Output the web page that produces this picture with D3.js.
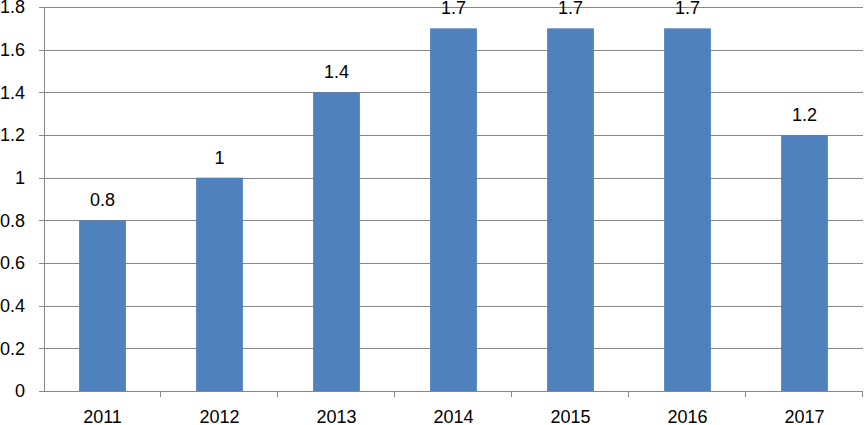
<!DOCTYPE html>
<html>
<head>
<meta charset="utf-8">
<script src="https://cdn.jsdelivr.net/npm/d3@7"></script>
<style>
  body { margin: 0; background: #fff; }
  text { font-family: "Liberation Sans", Arial, sans-serif; font-size: 18px; fill: #000; }
</style>
</head>
<body>
<div id="chart"></div>
<script>
// datos del gráfico
var years  = ['2011', '2012', '2013', '2014', '2015', '2016', '2017'];
var values = [0.8, 1, 1.4, 1.7, 1.7, 1.7, 1.2];
var yTicks = [0, 0.2, 0.4, 0.6, 0.8, 1, 1.2, 1.4, 1.6, 1.8];

var WIDTH  = 864;
var HEIGHT = 425;
var LEFT = 44, RIGHT = 863, TOP = 7, BOTTOM = 391;
var GRID = '#878787';
var BAR  = '#4F81BD';

var svg = d3.select('#chart').append('svg')
            .attr('width', WIDTH)
            .attr('height', HEIGHT);

var x = d3.scaleBand().domain(years).range([LEFT, RIGHT]);
var y = d3.scaleLinear().domain([0, 1.8]).range([BOTTOM, TOP]);

// líneas de la grilla (con su pequeña marca a la izquierda)
svg.append('g').selectAll('line')
   .data(yTicks)
   .enter().append('line')
   .attr('x1', LEFT - 5)
   .attr('x2', RIGHT)
   .attr('y1', d => Math.round(y(d)) + 0.5)
   .attr('y2', d => Math.round(y(d)) + 0.5)
   .attr('stroke', GRID);

svg.append('g').selectAll('text')
   .data(yTicks)
   .enter().append('text')
   .attr('x', 25)
   .attr('y', d => y(d))
   .attr('dy', '0.35em')
   .attr('text-anchor', 'end')
   .text(d => d);

// eje vertical
svg.append('line')
   .attr('x1', LEFT + 0.5).attr('x2', LEFT + 0.5)
   .attr('y1', TOP).attr('y2', BOTTOM)
   .attr('stroke', GRID);

// barras
var barW = x.bandwidth() / 2.5;
svg.append('g').selectAll('rect')
   .data(values)
   .enter().append('rect')
   .attr('x', (d, i) => x(years[i]) + (x.bandwidth() - barW) / 2)
   .attr('width', barW)
   .attr('y', d => y(d))
   .attr('height', d => BOTTOM - y(d))
   .attr('fill', BAR);

// etiquetas de valor
svg.append('g').selectAll('text')
   .data(values)
   .enter().append('text')
   .attr('x', (d, i) => x(years[i]) + x.bandwidth() / 2)
   .attr('y', d => y(d) - 14)
   .attr('text-anchor', 'middle')
   .text(d => d);

// marcas del eje x, entre categorías
var edges = years.map(d => x(d)).concat([RIGHT]);
svg.append('g').selectAll('line')
   .data(edges.slice(1))
   .enter().append('line')
   .attr('x1', d => Math.round(d) - 0.5)
   .attr('x2', d => Math.round(d) - 0.5)
   .attr('y1', BOTTOM)
   .attr('y2', BOTTOM + 6)
   .attr('stroke', GRID);

svg.append('g').selectAll('text')
   .data(years)
   .enter().append('text')
   .attr('x', d => x(d) + x.bandwidth() / 2)
   .attr('y', 423)
   .attr('text-anchor', 'middle')
   .text(d => d);
</script>
</body>
</html>
